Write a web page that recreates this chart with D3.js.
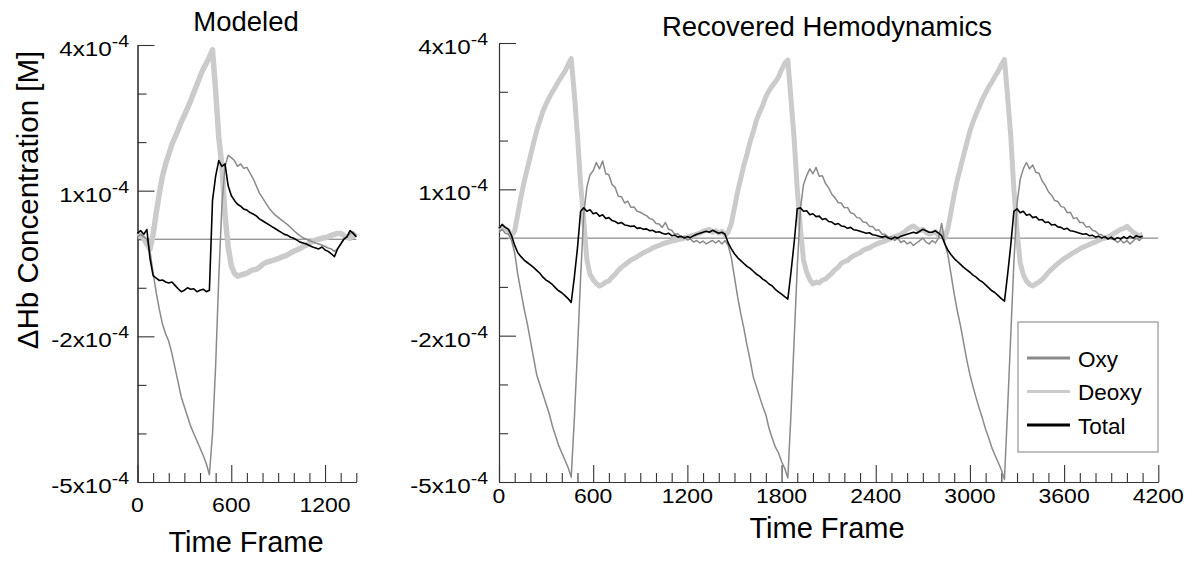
<!DOCTYPE html>
<html>
<head>
<meta charset="utf-8">
<script src="https://cdn.jsdelivr.net/npm/d3@7"></script>
<style>
  body { margin: 0; background: #fff; }
  svg { display: block; }
  text { font-family: Arial, "Liberation Sans", sans-serif; fill: #000; }
</style>
</head>
<body>
<svg id="chart" width="1188" height="561"></svg>
<script>
// values are in units of 1e-4 M, sampled every 20 time frames
const leftFrames = d3.range(0, 1401, 20);
const rightFrames = d3.range(0, 4101, 20);

const leftOxy = [
  0.05, 0.1, 0.05, 0.0, -0.25, -0.7, -1.1, -1.45, -1.75, -1.95,
  -2.1, -2.35, -2.65, -2.95, -3.25, -3.45, -3.65, -3.85, -4.0, -4.15,
  -4.3, -4.45, -4.62, -4.85, -4.0, -2.6, -0.8, 0.7, 1.5, 1.73,
  1.68, 1.62, 1.5, 1.55, 1.46, 1.48, 1.36, 1.25, 1.1, 0.95,
  0.85, 0.75, 0.65, 0.57, 0.5, 0.45, 0.4, 0.35, 0.3, 0.24,
  0.18, 0.12, 0.07, 0.03, 0.0, -0.03, -0.05, -0.08, -0.1, -0.12,
  -0.15, -0.18, -0.2, -0.25, -0.2, -0.1, 0.0, 0.05, 0.12, 0.15,
  0.05
];
const leftDeoxy = [
  0.05, 0.08, 0.02, -0.1, -0.2, 0.1, 0.55, 0.95, 1.3, 1.55,
  1.75, 1.95, 2.1, 2.25, 2.42, 2.55, 2.7, 2.85, 3.02, 3.18,
  3.35, 3.5, 3.62, 3.75, 3.9, 3.05, 2.1, 1.5, 0.5, -0.15,
  -0.55, -0.7, -0.76, -0.74, -0.72, -0.7, -0.66, -0.63, -0.62, -0.58,
  -0.52, -0.48, -0.46, -0.44, -0.42, -0.4, -0.37, -0.35, -0.32, -0.28,
  -0.25, -0.22, -0.19, -0.15, -0.12, -0.08, -0.05, -0.02, 0.0, 0.02,
  0.03, 0.05, 0.08, 0.1, 0.12, 0.12, 0.08, 0.04, 0.02, 0.1,
  0.05
];
const leftTotal = [
  0.12, 0.18, 0.1, 0.2, -0.4, -0.75, -0.8, -0.85, -0.84, -0.88,
  -0.9, -0.88, -0.95, -1.02, -1.08, -1.05, -1.0, -1.03, -1.02, -1.08,
  -1.05, -1.03, -1.08, -1.05, 0.8, 1.3, 1.62, 1.5, 1.55, 1.1,
  0.9, 0.8, 0.72, 0.68, 0.62, 0.6, 0.55, 0.52, 0.48, 0.42,
  0.38, 0.34, 0.3, 0.26, 0.22, 0.18, 0.14, 0.1, 0.08, 0.04,
  0.02, -0.02, -0.06, -0.08, -0.1, -0.13, -0.16, -0.18, -0.2, -0.16,
  -0.22, -0.25, -0.3, -0.36, -0.2, -0.1, 0.0, 0.05, 0.18, 0.12,
  0.05
];

const rightOxy = [
  // block 1 (frames 0-1360)
  0.12, 0.18, 0.1, 0.08, -0.05, -0.3, -0.75, -1.1, -1.45, -1.75,
  -2.1, -2.45, -2.8, -3.0, -3.2, -3.4, -3.6, -3.85, -4.05, -4.25,
  -4.4, -4.55, -4.7, -4.9, -3.7, -2.3, -0.8, 0.5, 1.05, 1.3,
  1.38, 1.55, 1.42, 1.58, 1.32, 1.3, 1.1, 1.04, 0.86, 0.85,
  0.72, 0.76, 0.63, 0.64, 0.55, 0.53, 0.49, 0.46, 0.4, 0.38,
  0.3, 0.29, 0.22, 0.32, 0.18, 0.16, 0.08, 0.09, 0.01, 0.04,
  -0.04, -0.02, -0.08, -0.05, -0.1, -0.06, -0.12, -0.08, -0.05,
  // block 2 (frames 1380-2740)
  -0.1, -0.05, -0.12, -0.05, -0.15, -0.4, -0.8, -1.2, -1.55, -1.85,
  -2.2, -2.5, -2.85, -3.05, -3.25, -3.45, -3.62, -3.9, -4.1, -4.28,
  -4.4, -4.58, -4.72, -4.92, -3.6, -2.1, -0.6, 0.6, 1.1, 1.28,
  1.42, 1.32, 1.45, 1.27, 1.28, 1.12, 1.03, 0.9, 0.83, 0.73,
  0.72, 0.62, 0.63, 0.52, 0.5, 0.42, 0.41, 0.33, 0.32, 0.24,
  0.24, 0.16, 0.17, 0.08, 0.08, 0.02, 0.03, -0.05, 0.0, -0.09,
  -0.05, -0.12, -0.08, -0.15, -0.1, -0.05, 0.0, -0.08, -0.12,
  // block 3 (frames 2760-4100)
  -0.05, -0.1, 0.0, 0.3, -0.1, -0.35, -0.75, -1.15, -1.5, -1.8,
  -2.15, -2.5, -2.8, -3.05, -3.28, -3.5, -3.7, -3.92, -4.1, -4.3,
  -4.45, -4.6, -4.75, -4.95, -3.5, -2.0, -0.5, 0.7, 1.2, 1.42,
  1.55, 1.42, 1.5, 1.35, 1.33, 1.17, 1.08, 0.95, 0.88, 0.77,
  0.75, 0.65, 0.63, 0.52, 0.53, 0.4, 0.42, 0.32, 0.32, 0.23,
  0.24, 0.16, 0.14, 0.08, 0.07, 0.0, 0.0, -0.02, -0.03, -0.09,
  -0.04, -0.1, -0.05, -0.12, -0.06, 0.0, -0.05, 0.02
];
const rightDeoxy = [
  0.18, 0.22, 0.2, 0.15, 0.05, 0.15, 0.5, 0.85, 1.15, 1.42,
  1.68, 1.95, 2.2, 2.4, 2.6, 2.75, 2.88, 3.0, 3.1, 3.22,
  3.32, 3.42, 3.55, 3.68, 2.95, 2.1, 1.1, 0.35, -0.45, -0.75,
  -0.85, -0.93, -0.98, -0.95, -0.9, -0.88, -0.8, -0.74, -0.66, -0.6,
  -0.55, -0.5, -0.45, -0.42, -0.38, -0.34, -0.3, -0.27, -0.24, -0.2,
  -0.17, -0.15, -0.12, -0.1, -0.08, -0.06, -0.05, -0.03, -0.02, 0.0,
  0.02, 0.04, 0.06, 0.08, 0.1, 0.14, 0.16, 0.18, 0.12,

  0.15, 0.1, 0.14, 0.06, 0.12, 0.3, 0.62, 0.95, 1.22, 1.5,
  1.72, 1.98, 2.18, 2.42, 2.58, 2.72, 2.9, 3.02, 3.12, 3.2,
  3.3, 3.45, 3.58, 3.65, 2.85, 2.05, 1.0, 0.2, -0.45, -0.7,
  -0.85, -0.94, -0.9, -0.92, -0.86, -0.84, -0.78, -0.72, -0.65, -0.6,
  -0.52, -0.48, -0.46, -0.4, -0.36, -0.33, -0.3, -0.25, -0.22, -0.2,
  -0.16, -0.13, -0.1, -0.08, -0.06, -0.03, 0.0, 0.03, 0.05, 0.08,
  0.12, 0.18, 0.22, 0.25, 0.2, 0.15, 0.18, 0.12, 0.08,

  0.1, 0.14, 0.05, 0.12, 0.0, 0.2, 0.55, 0.9, 1.2, 1.45,
  1.7, 1.95, 2.2, 2.38, 2.55, 2.7, 2.85, 2.98, 3.1, 3.2,
  3.32, 3.42, 3.55, 3.66, 2.9, 2.1, 1.0, 0.15, -0.5, -0.75,
  -0.88, -0.95, -0.98, -0.94, -0.9, -0.85, -0.78, -0.7, -0.64, -0.58,
  -0.52, -0.47, -0.42, -0.38, -0.34, -0.3, -0.26, -0.22, -0.19, -0.16,
  -0.13, -0.1, -0.08, -0.05, -0.02, 0.0, 0.03, 0.06, 0.1, 0.14,
  0.18, 0.2, 0.24, 0.18, 0.12, 0.08, 0.05, 0.08
];
const rightTotal = [
  0.2, 0.28, 0.22, 0.18, 0.05, -0.15, -0.3, -0.38, -0.45, -0.5,
  -0.55, -0.6, -0.66, -0.72, -0.8, -0.86, -0.9, -0.95, -1.02, -1.08,
  -1.12, -1.18, -1.24, -1.32, -0.8, -0.2, 0.55, 0.62, 0.55, 0.58,
  0.5, 0.52, 0.45, 0.48, 0.4, 0.42, 0.36, 0.34, 0.3, 0.32,
  0.27, 0.26, 0.24, 0.25, 0.2, 0.21, 0.18, 0.19, 0.15, 0.16,
  0.12, 0.13, 0.1, 0.08, 0.1, 0.05, 0.06, 0.02, 0.04, 0.0,
  0.03, 0.01, 0.05, 0.08, 0.1, 0.12, 0.14, 0.12, 0.16,

  0.13, 0.1, 0.12, 0.08, -0.1, -0.22, -0.32, -0.4, -0.46, -0.52,
  -0.58, -0.62, -0.68, -0.74, -0.78, -0.84, -0.88, -0.94, -0.98, -1.05,
  -1.1, -1.15, -1.2, -1.25, -0.7, -0.1, 0.6, 0.62, 0.55, 0.56,
  0.48, 0.5, 0.44, 0.45, 0.38, 0.4, 0.34, 0.33, 0.28, 0.3,
  0.25, 0.24, 0.2, 0.22, 0.17, 0.16, 0.14, 0.12, 0.1, 0.11,
  0.07, 0.06, 0.04, 0.02, 0.04, 0.0, -0.02, 0.02, 0.0, 0.04,
  0.06, 0.08, 0.1, 0.12, 0.1, 0.14, 0.18, 0.15, 0.12,

  0.12, 0.15, 0.1, 0.05, -0.12, -0.25, -0.34, -0.42, -0.48, -0.54,
  -0.6, -0.65, -0.7, -0.76, -0.8, -0.86, -0.9, -0.96, -1.02, -1.08,
  -1.12, -1.18, -1.24, -1.29, -0.75, -0.15, 0.55, 0.6, 0.52, 0.55,
  0.47, 0.49, 0.42, 0.44, 0.37, 0.38, 0.32, 0.33, 0.27, 0.28,
  0.23, 0.22, 0.18, 0.2, 0.15, 0.14, 0.12, 0.1, 0.08, 0.09,
  0.05, 0.06, 0.02, 0.04, 0.0, 0.03, -0.02, 0.02, -0.03, 0.01,
  -0.02, 0.03, -0.01, 0.04, 0.0, 0.05, 0.02, 0.04
];

const yMajorTicks = [4, 1, -2, -5];
const yMinorTicks = [3, 2, 0, -1, -3, -4];
const leftXMajor = [0, 600, 1200];
const rightXMajor = [0, 600, 1200, 1800, 2400, 3000, 3600, 4200];
const seriesNames = ['Oxy', 'Deoxy', 'Total'];

const colors = { Oxy: '#8a8a8a', Deoxy: '#cbcbcb', Total: '#000000' };

const svg = d3.select('#chart');

function drawPanel(p) {
  const x = d3.scaleLinear().domain([0, p.xMax]).range([p.left, p.right]);
  const y = d3.scaleLinear().domain([-5, 4]).range([p.bottom, p.top]);
  const g = svg.append('g');

  // minor + major ticks pointing inward
  const minorX = d3.range(0, p.xMax + 1, 100).filter(v => !p.xMajor.includes(v));
  g.append('g').attr('transform', `translate(0,${p.bottom})`)
    .call(d3.axisBottom(x).tickValues(minorX).tickSize(-9).tickSizeOuter(0).tickFormat(''));
  g.append('g').attr('transform', `translate(0,${p.bottom})`)
    .call(d3.axisBottom(x).tickValues(p.xMajor).tickSize(-17).tickSizeOuter(0).tickFormat(''));
  g.append('g').attr('transform', `translate(${p.left},0)`)
    .call(d3.axisLeft(y).tickValues(yMinorTicks).tickSize(-9).tickSizeOuter(0).tickFormat(''));
  g.append('g').attr('transform', `translate(${p.left},0)`)
    .call(d3.axisLeft(y).tickValues(yMajorTicks).tickSize(-17).tickSizeOuter(0).tickFormat(''));
  g.selectAll('.domain, .tick line').attr('stroke', '#333').attr('stroke-width', 1.1);

  // x tick labels
  p.xMajor.forEach(v => {
    g.append('g').attr('transform', `translate(${x(v)},${p.xLabelY}) scale(1.15,1)`)
      .append('text').attr('text-anchor', 'middle').style('font-size', '20px').text(v);
  });
  // y tick labels with superscript exponent
  yMajorTicks.forEach(v => {
    const t = g.append('g').attr('transform', `translate(${p.yLabelRight},${y(v) + 11}) scale(1.18,1)`)
      .append('text').attr('text-anchor', 'end').style('font-size', '20.5px');
    t.append('tspan').text(`${v}x10`);
    t.append('tspan').attr('dy', -9).style('font-size', '16.5px').text('-4');
  });

  // zero line
  g.append('line')
    .attr('x1', x(0)).attr('x2', x(p.xMax))
    .attr('y1', y(0)).attr('y2', y(0))
    .attr('stroke', '#6f6f6f').attr('stroke-width', 1);

  const line = d3.line().x((d, i) => x(p.frames[i])).y(d => y(d));
  const widths = { Oxy: 1.5, Deoxy: p.deoxyWidth, Total: 1.6 };
  ['Deoxy', 'Oxy', 'Total'].forEach(name => {
    g.append('path').datum(p.series[name])
      .attr('d', line)
      .attr('fill', 'none')
      .attr('stroke', colors[name])
      .attr('stroke-width', widths[name])
      .attr('stroke-linejoin', 'round');
  });

  g.append('text').attr('x', p.titleX).attr('y', p.titleY)
    .attr('text-anchor', 'middle').style('font-size', '27.5px').text(p.title);
  g.append('text').attr('x', p.titleX).attr('y', p.xTitleY)
    .attr('text-anchor', 'middle').style('font-size', '29px').text('Time Frame');
}

drawPanel({
  left: 137.5, right: 356.3, top: 45, bottom: 482, xMax: 1400,
  xMajor: leftXMajor, xLabelY: 512, yLabelRight: 129,
  frames: leftFrames, series: { Oxy: leftOxy, Deoxy: leftDeoxy, Total: leftTotal },
  deoxyWidth: 5.5, title: 'Modeled', titleX: 246, titleY: 31, xTitleY: 552
});
drawPanel({
  left: 499, right: 1158.3, top: 43, bottom: 482, xMax: 4200,
  xMajor: rightXMajor, xLabelY: 503, yLabelRight: 488,
  frames: rightFrames, series: { Oxy: rightOxy, Deoxy: rightDeoxy, Total: rightTotal },
  deoxyWidth: 5, title: 'Recovered Hemodynamics', titleX: 827, titleY: 36, xTitleY: 538
});

// y axis title
svg.append('text')
  .attr('transform', 'translate(38,200) rotate(-90)')
  .attr('text-anchor', 'middle').style('font-size', '29.5px').text('\u0394Hb Concentration [M]');

// legend
const legend = svg.append('g').attr('transform', 'translate(1018,322)');
legend.append('rect').attr('width', 140).attr('height', 130)
  .attr('fill', '#fff').attr('stroke', '#808080').attr('stroke-width', 1);
seriesNames.forEach((name, i) => {
  const ly = 36 + i * 33.5;
  legend.append('line').attr('x1', 9).attr('x2', 52).attr('y1', ly).attr('y2', ly)
    .attr('stroke', colors[name]).attr('stroke-width', 3);
  legend.append('text').attr('x', 60).attr('y', ly + 8.5).style('font-size', '22.5px').text(name);
});
</script>
</body>
</html>
